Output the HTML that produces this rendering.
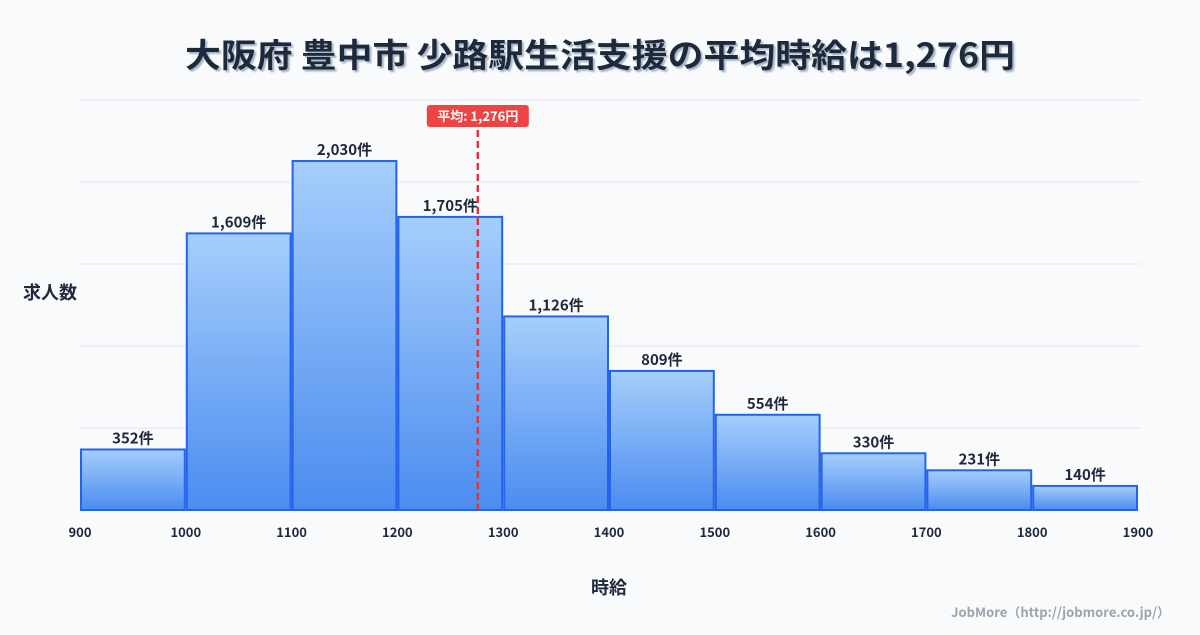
<!DOCTYPE html>
<html><head><meta charset="utf-8"><style>
html,body{margin:0;padding:0;background:#f8fafc;}
body{width:1200px;height:630px;overflow:hidden;font-family:"Noto Sans CJK JP","Liberation Sans",sans-serif;}
</style></head><body>
<svg id="chart" width="1200" height="630" xmlns="http://www.w3.org/2000/svg" style="font-family:'Noto Sans CJK JP','Liberation Sans',sans-serif">
<defs>
<linearGradient id="bg" x1="0" y1="0" x2="0" y2="1"><stop offset="0" stop-color="#a5cefb"/><stop offset="1" stop-color="#4b8cf0"/></linearGradient>
<filter id="sh"><feDropShadow dx="2" dy="2" stdDeviation="0.8" flood-color="#94a3b8" flood-opacity="0.8"/></filter>
</defs>
<text x="600" y="67" text-anchor="middle" font-size="33" font-weight="bold" fill="#1e293b" filter="url(#sh)" textLength="830" lengthAdjust="spacingAndGlyphs">大阪府 豊中市 少路駅生活支援の平均時給は1,276円</text>
<g id="grid"></g><g id="bars"></g><g id="xt"></g>
<text x="50" y="299" text-anchor="middle" font-size="18" font-weight="bold" fill="#1e293b">求人数</text>
<text x="609" y="594" text-anchor="middle" font-size="18" font-weight="bold" fill="#1e293b">時給</text>
<text x="1170" y="617" text-anchor="end" font-size="13" font-weight="bold" fill="#9ca3af">JobMore（http://jobmore.co.jp/）</text>
<g id="mean"></g>
</svg>
<script>
const binStarts=[900,1000,1100,1200,1300,1400,1500,1600,1700,1800];
const counts=[352,1609,2030,1705,1126,809,554,330,231,140];
const xTicks=[900,1000,1100,1200,1300,1400,1500,1600,1700,1800,1900];
const meanValue=1276;
const meanLabel="平均: 1,276円";
const NS="http://www.w3.org/2000/svg";
const X0=80,X1=1138,XMIN=900,XMAX=1900,Y0=510,YTOP=100,YMAX=2385;
const x=v=>X0+(v-XMIN)/(XMAX-XMIN)*(X1-X0);
const y=v=>Y0-v/YMAX*(Y0-YTOP);
function mk(t,a,p){const e=document.createElementNS(NS,t);for(const k in a)e.setAttribute(k,a[k]);document.getElementById(p).appendChild(e);return e;}
for(let i=0;i<=5;i++){const gy=Y0-i*(Y0-YTOP)/5;
const l=mk('line',{x1:X0,x2:1140,y1:gy,y2:gy,stroke:i==0?'#cbd5e1':'#e2e8f0','stroke-width':1},'grid');

}
binStarts.forEach((b,i)=>{const xa=x(b)+1,xb=x(b+100)-1,yt=y(counts[i]);
const r=mk('rect',{x:xa,y:yt,width:xb-xa,height:Y0-yt,fill:'url(#bg)',stroke:'#2563eb','stroke-width':2},'bars');


const t=mk('text',{x:(xa+xb)/2,y:yt-6,'text-anchor':'middle','font-size':15,'font-weight':'bold',fill:'#1e293b'},'bars');
t.textContent=counts[i].toLocaleString('en-US')+'件';

});
xTicks.forEach(v=>{const t=mk('text',{x:x(v),y:537,'text-anchor':'middle','font-size':13,'font-weight':'bold',fill:'#1e293b'},'xt');
t.textContent=v;

});
const mx=x(meanValue);
const ml=mk('line',{x1:mx,x2:mx,y1:130,y2:Y0,stroke:'#dc3545','stroke-width':2.5,'stroke-dasharray':'7,4'},'mean');


const mr=mk('rect',{x:mx-51,y:105,width:102,height:22,rx:3,fill:'#ef4444'},'mean');


const mt=mk('text',{x:mx,y:121,'text-anchor':'middle','font-size':13,'font-weight':'bold',fill:'#fff'},'mean');
mt.textContent=meanLabel;


</script>
</body></html>
